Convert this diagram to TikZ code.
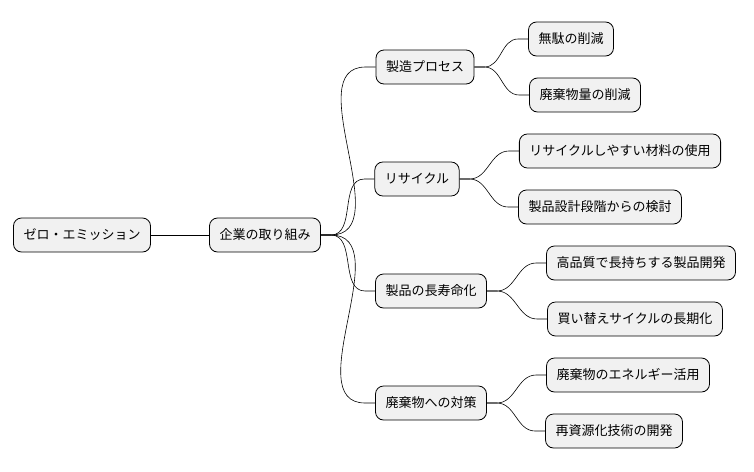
\documentclass[tikz,border=0pt]{standalone}
\usepackage{fontspec}
\setmainfont{Noto Sans CJK JP}
\begin{document}
\begin{tikzpicture}[x=1pt,y=-1pt,
  topic/.style={draw=black, line width=0.8pt, fill={rgb,255:red,241;green,241;blue,241}, rounded corners=8pt,
    minimum height=34pt, inner xsep=10pt, font=\fontsize{13}{15}\selectfont},
  branch/.style={draw=black, line width=0.6pt}]
\useasboundingbox (0,0) rectangle (754,471);

\node[topic] (root) at (82,235) {ゼロ・エミッション};
\node[topic] (corp) at (265,235) {企業の取り組み};

\node[topic] (proc) at (425,67) {製造プロセス};
\node[topic] (recy) at (417,179) {リサイクル};
\node[topic] (life) at (431,291) {製品の長寿命化};
\node[topic] (wast) at (431,403) {廃棄物への対策};

\node[topic] (muda) at (571,39) {無駄の削減};
\node[topic] (ryou) at (585,95) {廃棄物量の削減};
\node[topic] (zair) at (620,151) {リサイクルしやすい材料の使用};
\node[topic] (sekk) at (600,207) {製品設計段階からの検討};
\node[topic] (hinq) at (641,263) {高品質で長持ちする製品開発};
\node[topic] (kaik) at (635,319) {買い替えサイクルの長期化};
\node[topic] (ener) at (628,375) {廃棄物のエネルギー活用};
\node[topic] (shig) at (614,431) {再資源化技術の開発};

% branches
\draw[branch] (root.east) -- (corp.west);
\foreach \a/\b in {corp/proc, corp/recy, corp/life, corp/wast,
  proc/muda, proc/ryou, recy/zair, recy/sekk, life/hinq, life/kaik, wast/ener, wast/shig}
  \draw[branch] (\a.east) -- ++(10,0) to[out=0,in=180] ([xshift=-10pt]\b.west) -- (\b.west);
\end{tikzpicture}
\end{document}
